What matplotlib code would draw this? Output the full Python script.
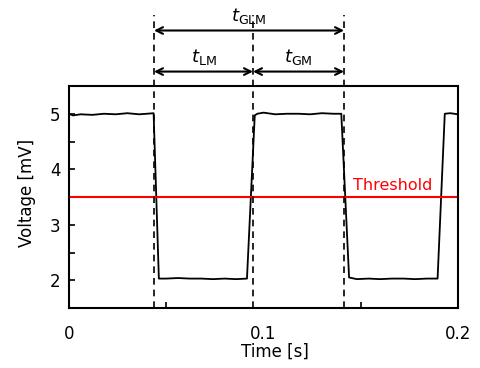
import matplotlib
matplotlib.use("Agg")
import matplotlib.pyplot as plt
from matplotlib.ticker import MultipleLocator

plt.rcParams['font.family'] = ['DejaVu Sans']
plt.rcParams['mathtext.fontset'] = 'dejavusans'

# signal trace (time in s, voltage in mV)
time_s = [0.0, 0.002, 0.006, 0.012, 0.018, 0.024, 0.030, 0.036, 0.040, 0.0435,
          0.0462, 0.050, 0.056, 0.062, 0.068, 0.074, 0.080, 0.086, 0.0915,
          0.0955, 0.0968, 0.100, 0.106, 0.112, 0.118, 0.124, 0.130, 0.136, 0.1400,
          0.1440, 0.148, 0.154, 0.160, 0.166, 0.172, 0.178, 0.184, 0.1895,
          0.1932, 0.196, 0.2]
voltage = [5.00, 4.97, 4.99, 4.98, 5.00, 4.99, 5.01, 4.99, 5.00, 5.01,
           2.03, 2.03, 2.04, 2.03, 2.03, 2.02, 2.03, 2.02, 2.03,
           4.97, 5.00, 5.02, 4.99, 5.00, 5.00, 4.99, 5.01, 5.00, 5.00,
           2.05, 2.02, 2.03, 2.02, 2.03, 2.03, 2.02, 2.03, 2.03,
           5.00, 5.01, 4.99]

threshold = 3.5
# crossing times (dashed markers)
t_marks = [0.0437, 0.0946, 0.1414]

fig = plt.figure(figsize=(4.8, 3.68), dpi=100)
ax = fig.add_axes([69 / 480, 1 - 308 / 368, 389 / 480, 222 / 368])

ax.plot(time_s, voltage, color='black', lw=1.3)
ax.axhline(threshold, color='red', lw=1.5)
ax.text(0.1665, threshold + 0.07, 'Threshold', color='red', fontsize=11.5,
        ha='center', va='bottom')

for t in t_marks:
    ax.plot([t, t], [1.5, 6.78], color='black', lw=1.2, ls=(0, (4, 3)),
            clip_on=False)

# arrows above the plot
y_top = 6.5
y_mid = 5.76
arrow = dict(arrowstyle='<->', color='black', lw=1.5, mutation_scale=12,
             shrinkA=0, shrinkB=0)
ax.annotate('', xy=(t_marks[0], y_top), xytext=(t_marks[2], y_top),
            arrowprops=arrow, annotation_clip=False)
ax.annotate('', xy=(t_marks[0], y_mid), xytext=(t_marks[1], y_mid),
            arrowprops=arrow, annotation_clip=False)
ax.annotate('', xy=(t_marks[1], y_mid), xytext=(t_marks[2], y_mid),
            arrowprops=arrow, annotation_clip=False)
ax.text((t_marks[0] + t_marks[2]) / 2, y_top + 0.08, r'$t_{\rm GLM}$',
        fontsize=13, ha='center', va='bottom')
ax.text((t_marks[0] + t_marks[1]) / 2, y_mid + 0.08, r'$t_{\rm LM}$',
        fontsize=13, ha='center', va='bottom')
ax.text((t_marks[1] + t_marks[2]) / 2, y_mid + 0.08, r'$t_{\rm GM}$',
        fontsize=13, ha='center', va='bottom')

ax.set_xlim(0, 0.2)
ax.set_ylim(1.5, 5.5)
ax.set_xticks([0, 0.1, 0.2])
ax.set_xticklabels(['0', '0.1', '0.2'])
ax.xaxis.set_minor_locator(MultipleLocator(0.05))
ax.set_yticks([2, 3, 4, 5])
ax.yaxis.set_minor_locator(MultipleLocator(0.5))
ax.tick_params(which='both', direction='in', length=4, width=1.2,
               labelsize=12, top=False, right=False)
ax.tick_params(axis='x', which='major', length=0, pad=12)
ax.tick_params(axis='y', which='major', pad=6)
for s in ax.spines.values():
    s.set_linewidth(1.5)

ax.set_xlabel('Time [s]', fontsize=12)
ax.xaxis.set_label_coords(0.53, -0.155)
ax.set_ylabel('Voltage [mV]', fontsize=12)
ax.yaxis.set_label_coords(-0.085, 0.52)

fig.savefig('out.png', dpi=100)
